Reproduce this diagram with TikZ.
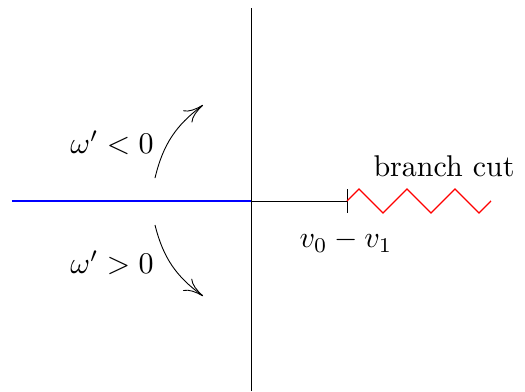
\documentclass[tikz,border=0pt]{standalone}
\usetikzlibrary{decorations.pathmorphing,arrows.meta}
\begin{document}
\begin{tikzpicture}[>={To[length=6.5pt,width=5pt]}]
\useasboundingbox (-2.939,-2.225) rectangle (3.208,2.354);
\coordinate (O) at (0,0);
\coordinate (N) at (0,2.26);
\coordinate (S) at (0,-2.225);
\coordinate (W) at (-2.8,0);
\coordinate (P) at (1.124,0);
\coordinate (E) at (2.81,0);
\draw[line width=0.3pt] (S)--(N);
\draw[color=blue] (W)--(O);
\draw[line width=0.3pt] (O)--(P);
\draw[line width=0.3pt] ([yshift=0.14cm]P)--([yshift=-0.14cm]P);
\draw[color=red,decorate,decoration={zigzag,segment length=0.562cm,amplitude=0.14cm}] (P)--(E);
\node (L) at (-1.628,0.68) {$\omega'<0$};
\node (G) at (-1.628,-0.726) {$\omega'>0$};
\node (C) at (2.26,0.41) {branch cut};
\node (V) at (1.112,-0.468) {$v_0-v_1$};
\coordinate (A1) at (-1.124,0.269);
\coordinate (A2) at (-0.562,1.124);
\coordinate (B1) at (-1.124,-0.281);
\coordinate (B2) at (-0.562,-1.112);
\draw[->,line width=0.3pt] (A1) to[bend left=20] (A2);
\draw[->,line width=0.3pt] (B1) to[bend right=20] (B2);
\end{tikzpicture}
\end{document}
